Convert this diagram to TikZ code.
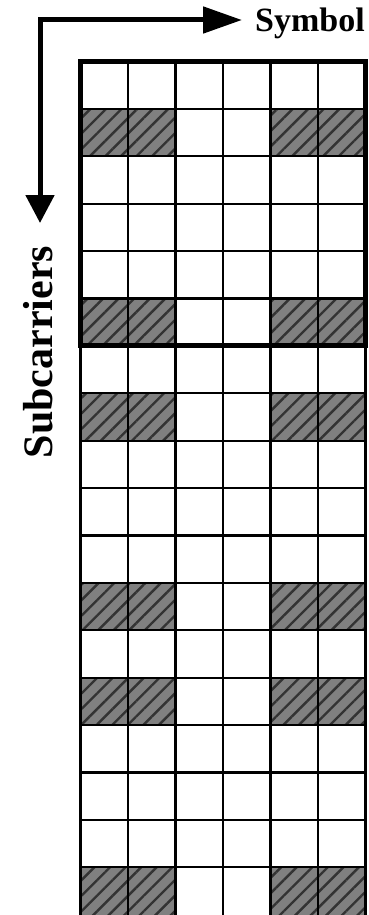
\documentclass[tikz,border=0pt]{standalone}
\usepackage{fontspec}
\setmainfont{Liberation Serif}
\usetikzlibrary{arrows.meta,patterns.meta}
\definecolor{cellgray}{HTML}{808080}
\begin{document}
\begin{tikzpicture}[x=1pt,y=-1pt,
  thingrid/.style={line width=2.2pt,black},
  boldbox/.style={line width=5pt,black},
  shadecell/.style={fill=cellgray},
  hatchcell/.style={pattern={Lines[angle=45,distance=11pt,line width=2.4pt]},pattern color=black!80},
  axisarrow/.style={line width=5pt,{Triangle[length=28pt,width=28pt]}-{Triangle[length=39pt,width=26pt]}},
  labeltext/.style={inner sep=0pt}]
\useasboundingbox (0,0) rectangle (369,915);
% shaded pilot cells
\foreach \j in {1,5,7,11,13,17}{
  \foreach \i in {0,1,4,5}{
    \fill[shadecell] (80.5+47.5*\i,61.5+47.4*\j) rectangle ++(47.5,47.4);
    \fill[hatchcell] (80.5+47.5*\i,61.5+47.4*\j) rectangle ++(47.5,47.4);
  }
}
% grid
\foreach \i in {0,...,6}{
  \draw[thingrid] (80.5+47.5*\i,61.5) -- (80.5+47.5*\i,917);
}
\foreach \j in {0,...,17}{
  \draw[thingrid] (80.5,61.5+47.4*\j) -- (365.5,61.5+47.4*\j);
}
\draw[boldbox] (80.5,61.5) rectangle (365.5,345.9);
% axes
\coordinate (corner) at (40,20);
\coordinate (vtip) at (40,223);
\coordinate (htip) at (242,20);
\draw[axisarrow] (vtip) -- (corner) -- (htip);
\node[labeltext,font=\fontsize{34}{34}\selectfont\bfseries,anchor=base west] (sym) at (255,32) {Symbol};
\node[labeltext,font=\fontsize{42}{42}\selectfont\bfseries,rotate=90,anchor=base] (sub) at (52,352) {Subcarriers};
\end{tikzpicture}
\end{document}
